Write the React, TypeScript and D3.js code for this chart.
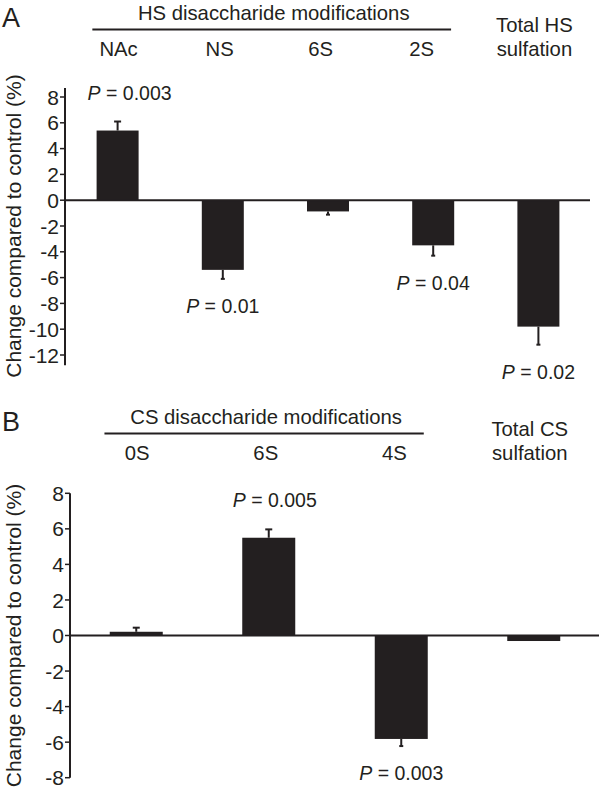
import React from "react";
import * as d3 from "d3";

// Panel A data
const catsA = ["NAc", "NS", "6S", "2S", "Total"];
const valuesA = [5.4, -5.4, -0.87, -3.5, -9.8];
const errorsA = [0.7, 0.7, 0.25, 0.8, 1.4];
const pLabelsA = ["P = 0.003", "P = 0.01", "", "P = 0.04", "P = 0.02"];
const ticksA = [8, 6, 4, 2, 0, -2, -4, -6, -8, -10, -12];

// Panel B data
const catsB = ["0S", "6S", "4S", "Total"];
const valuesB = [0.21, 5.5, -5.82, -0.31];
const errorsB = [0.23, 0.47, 0.4, 0];
const pLabelsB = ["", "P = 0.005", "P = 0.003", ""];
const ticksB = [8, 6, 4, 2, 0, -2, -4, -6, -8];

const INK = "#231f20";
const FONT = "'Liberation Sans', Arial, Helvetica, sans-serif";

type PanelProps = {
  letter: string;
  cats: string[];
  values: number[];
  errors: number[];
  pLabels: string[];
  ticks: number[];
  yDomain: [number, number];
  yRange: [number, number];
  axisExtent: [number, number];
  xRange: [number, number];
  barWidth: number;
  header: string;
  headerCats: number;
  labelSpread: number;
  totalLabel: string[];
  top: number;
  pShift: number;
};

function Panel(p: PanelProps) {
  const y = d3.scaleLinear().domain(p.yDomain).range(p.yRange);
  const x = d3.scalePoint<string>().domain(p.cats).range(p.xRange).padding(0.5);
  const axisX = p.xRange[0];
  const y0 = y(0);
  const fs = 20.3;
  const modCats = p.cats.slice(0, p.headerCats);
  const first = x(modCats[0]) as number;
  const ruleL = first - x.step() * 0.24;
  const ruleR = (x(modCats[modCats.length - 1]) as number) + x.step() * 0.17;
  const totalX = x(p.cats[p.cats.length - 1]) as number;
  const midY = (y(p.ticks[0]) + y(p.ticks[p.ticks.length - 1])) / 2;
  return (
    <g>
      <text x={2} y={p.top + 27} fontSize={27} fill={INK}>{p.letter}</text>
      <text x={(ruleL + ruleR) / 2 + 2} y={p.top + 20} fontSize={20.3} textAnchor="middle" fill={INK}>{p.header}</text>
      <line x1={ruleL} x2={ruleR} y1={p.top + 29.5} y2={p.top + 29.5} stroke={INK} strokeWidth={2} />
      {modCats.map((c, i) => (
        <text key={c} x={first + 1 + i * x.step() * p.labelSpread} y={p.top + 56} fontSize={fs} textAnchor="middle" fill={INK}>{c}</text>
      ))}
      <text x={totalX - 4} y={p.top + 32} fontSize={fs} textAnchor="middle" fill={INK}>{p.totalLabel[0]}</text>
      <text x={totalX - 4} y={p.top + 56} fontSize={fs} textAnchor="middle" fill={INK}>{p.totalLabel[1]}</text>
      {/* y axis */}
      <line x1={axisX} x2={axisX} y1={y(p.axisExtent[1])} y2={y(p.axisExtent[0])} stroke={INK} strokeWidth={2} />
      {p.ticks.map((t) => (
        <g key={t}>
          <line x1={axisX - 5} x2={axisX} y1={y(t)} y2={y(t)} stroke={INK} strokeWidth={1.5} />
          <text x={axisX - 6} y={y(t)} dy="0.36em" fontSize={21} textAnchor="end" fill={INK}>{t}</text>
        </g>
      ))}
      <text transform={`translate(13,${midY}) rotate(-90)`} dy="0.36em" fontSize={21} textAnchor="middle" fill={INK}>
        Change compared to control (%)
      </text>
      {/* bars */}
      {p.cats.map((c, i) => {
        const cx = x(c) as number;
        const v = p.values[i];
        const e = p.errors[i];
        const top = Math.min(y(v), y0);
        const h = Math.abs(y(v) - y0);
        const ey = y(v + Math.sign(v) * e);
        const cap = v > 0 ? 7 : 4;
        return (
          <g key={c}>
            {e > 0 && (
              <g>
                <line x1={cx} x2={cx} y1={y(v)} y2={ey} stroke={INK} strokeWidth={2} />
                <line x1={cx - cap / 2} x2={cx + cap / 2} y1={ey} y2={ey} stroke={INK} strokeWidth={2} />
              </g>
            )}
            <rect x={cx - p.barWidth / 2} y={top} width={p.barWidth} height={h} fill={INK} />
          </g>
        );
      })}
      <line x1={axisX} x2={p.xRange[1] - 1} y1={y0} y2={y0} stroke={INK} strokeWidth={2} />
      {/* p labels */}
      {p.cats.map((c, i) => {
        if (!p.pLabels[i]) return null;
        const cx = x(c) as number;
        const v = p.values[i];
        const e = p.errors[i];
        const ly = v > 0 ? y(v + e) - 22 : y(v - e) + 34;
        const rest = p.pLabels[i].slice(1);
        return (
          <text key={"p" + c} x={cx + (v > 0 ? p.pShift : 0)} y={ly} fontSize={19.5} textAnchor="middle" fill={INK}>
            <tspan fontStyle="italic">P</tspan>
            {rest}
          </text>
        );
      })}
    </g>
  );
}

export default function App() {
  return (
    <svg width={600} height={793} style={{ position: "absolute", left: 0, top: 0, background: "#fff" }} fontFamily={FONT}>
      <rect width={600} height={793} fill="#fff" />
      <Panel
        letter="A"
        cats={catsA}
        values={valuesA}
        errors={errorsA}
        pLabels={pLabelsA}
        ticks={ticksA}
        yDomain={[-12, 8]}
        yRange={[355, 97]}
        axisExtent={[-12.8, 8.7]}
        xRange={[65, 591]}
        barWidth={42}
        header="HS disaccharide modifications"
        headerCats={4}
        labelSpread={0.96}
        totalLabel={["Total HS", "sulfation"]}
        top={0}
        pShift={12}
      />
      <Panel
        letter="B"
        cats={catsB}
        values={valuesB}
        errors={errorsB}
        pLabels={pLabelsB}
        ticks={ticksB}
        yDomain={[-8, 8]}
        yRange={[777.7, 493.3]}
        axisExtent={[-8, 8]}
        xRange={[70, 600]}
        barWidth={53}
        header="CS disaccharide modifications"
        headerCats={3}
        labelSpread={0.97}
        totalLabel={["Total CS", "sulfation"]}
        top={404}
        pShift={6}
      />
    </svg>
  );
}
